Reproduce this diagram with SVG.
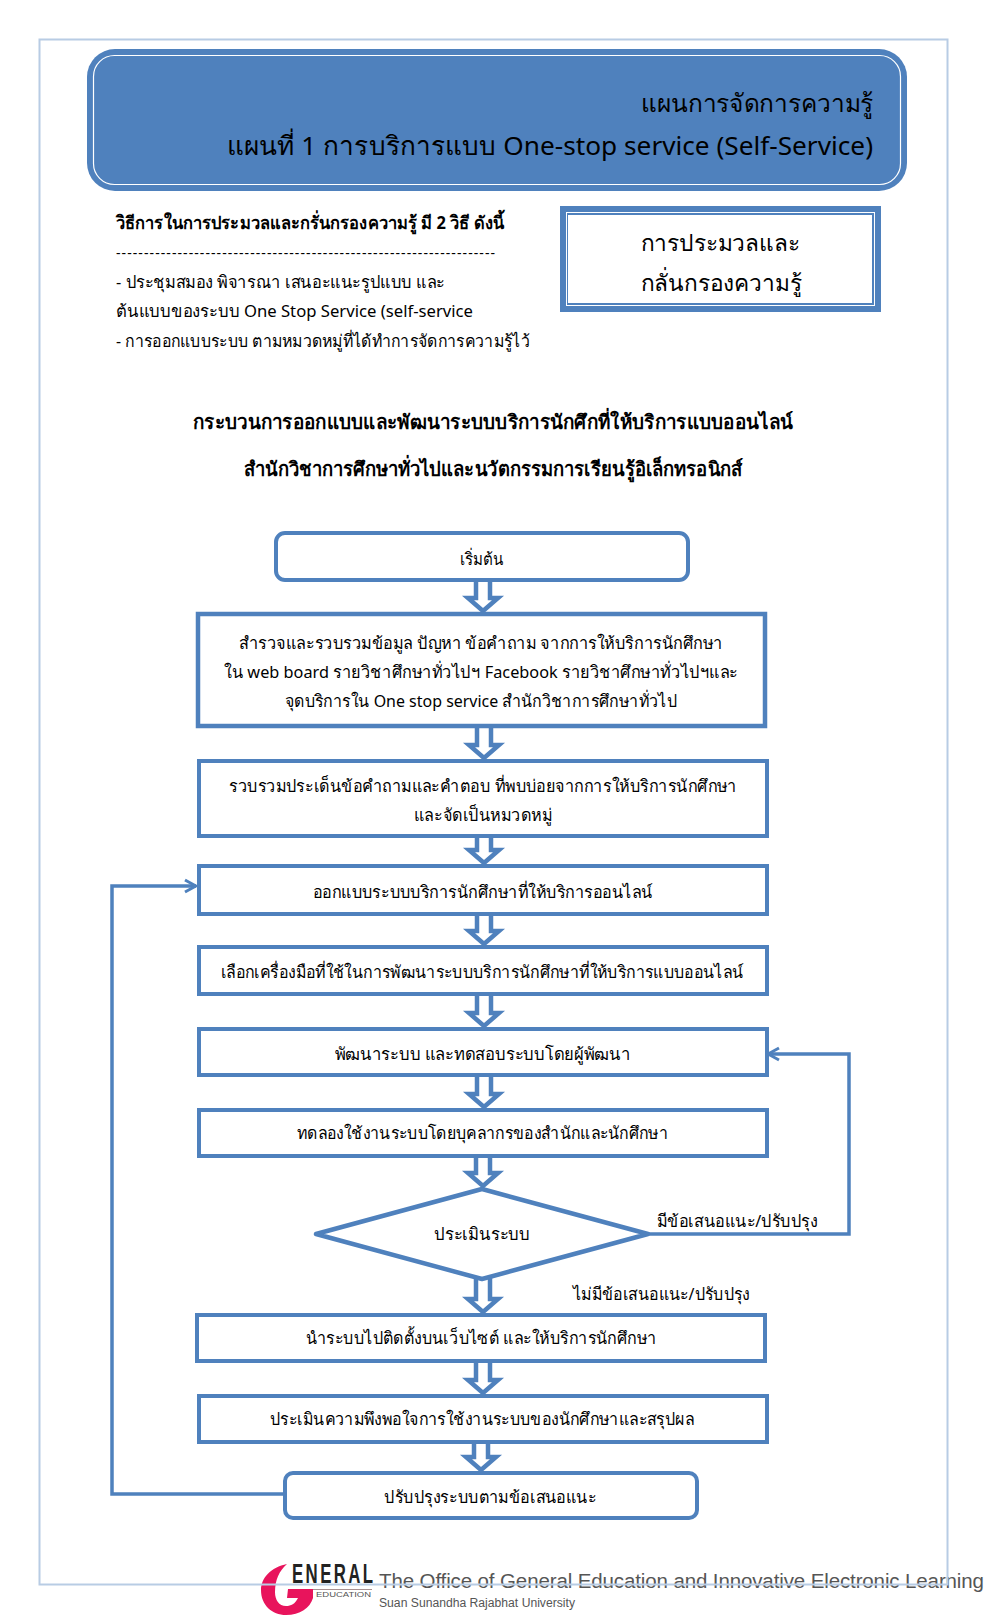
<svg xmlns="http://www.w3.org/2000/svg" width="987" height="1624" viewBox="0 0 987 1624">
<style>
text{font-family:"Noto Sans","Liberation Sans","DejaVu Sans",sans-serif;fill:#000}
.m{text-anchor:middle}
.b{fill:#fff;stroke:#4f81bd;stroke-width:4}
.c{fill:none;stroke:#4f81bd;stroke-width:3.500}
.s{font-size:17px}
.logo{font-family:"Liberation Sans",sans-serif;fill:#555}
</style>
<defs>
<marker id="o" markerWidth="16" markerHeight="16" refX="14" refY="8" orient="auto" markerUnits="userSpaceOnUse"><path d="M3 2L14 8L3 14" fill="none" stroke="#4f81bd" stroke-width="3"/></marker>
<path id="ar" d="M-7 -35V-14H-15L0 -1L15 -14H7V-35" fill="#fff" stroke="#4f81bd" stroke-width="4.500"/>
</defs>
<g id="logo">
<path d="M287 1564C271 1567 261 1578 261 1590C261 1605 272 1615 286 1615C300 1615 310 1608 313 1598V1589H288L287 1598H298C295 1604 291 1606 286 1606C279 1606 275 1600 275 1592C275 1580 279 1571 287 1564Z" fill="#e8145c"/>
<path d="M313 1589.500H372" stroke="#a89090" stroke-width="1"/>
<text class="logo" transform="translate(292 1583) scale(.6 1)" style="font-size:28px;font-weight:bold;letter-spacing:4px;fill:#222">ENERAL</text>
<text class="logo" x="316" y="1597" style="font-size:7.500px" textLength="55" lengthAdjust="spacingAndGlyphs">EDUCATION</text>
<text class="logo" x="379" y="1588" style="font-size:20.500px" textLength="605">The Office of General Education and Innovative Electronic Learning</text>
<text class="logo" x="379" y="1607" style="font-size:12px" textLength="196" lengthAdjust="spacingAndGlyphs">Suan Sunandha Rajabhat University</text>
</g>
<rect id="frame" x="39.500" y="39.500" width="908" height="1545" fill="none" stroke="#b8cce4" stroke-width="2"/>
<g id="header">
<rect x="87" y="49" width="820" height="142" rx="28" fill="#4f81bd"/>
<rect x="93.500" y="55.500" width="807" height="129" rx="21" fill="#4f81bd" stroke="#fff" stroke-width="1.200"/>
<text x="873" y="112" text-anchor="end" style="font-size:25px" textLength="232" lengthAdjust="spacingAndGlyphs">แผนการจัดการความรู้</text>
<text x="873" y="155" text-anchor="end" style="font-size:26px" textLength="646" lengthAdjust="spacingAndGlyphs">แผนที่ 1 การบริการแบบ One-stop service (Self-Service)</text>
</g>
<g id="intro">
<text x="116" y="229" style="font-size:18px;font-weight:bold" textLength="388" lengthAdjust="spacingAndGlyphs">วิธีการในการประมวลและกรั่นกรองความรู้ มี 2 วิธี ดังนี้</text>
<text x="116" y="258" style="font-size:14px" textLength="379">--------------------------------------------------------------------</text>
<text x="116" y="288" class="s" textLength="329" lengthAdjust="spacingAndGlyphs">- ประชุมสมอง พิจารณา เสนอะแนะรูปแบบ และ</text>
<text x="116" y="317" class="s" textLength="357" lengthAdjust="spacingAndGlyphs">ต้นแบบของระบบ One Stop Service (self-service</text>
<text x="116" y="347" class="s" textLength="414" lengthAdjust="spacingAndGlyphs">- การออกแบบระบบ ตามหมวดหมู่ที่ได้ทำการจัดการความรู้ไว้</text>
</g>
<g id="km-box">
<rect x="560" y="206" width="321" height="106" fill="#4f81bd"/>
<rect x="566.500" y="212.500" width="308" height="93" fill="#4f81bd" stroke="#fff"/>
<rect x="568" y="215" width="304" height="88" fill="#fff"/>
<text x="720" y="251" class="m" style="font-size:23px" textLength="159" lengthAdjust="spacingAndGlyphs">การประมวลและ</text>
<text x="721" y="291" class="m" style="font-size:23px" textLength="161" lengthAdjust="spacingAndGlyphs">กลั่นกรองความรู้</text>
</g>
<g id="titles">
<text x="493" y="429" class="m" style="font-size:20px;font-weight:bold" textLength="600" lengthAdjust="spacingAndGlyphs">กระบวนการออกแบบและพัฒนาระบบบริการนักศึกที่ให้บริการแบบออนไลน์</text>
<text x="493" y="476" class="m" style="font-size:20px;font-weight:bold" textLength="499" lengthAdjust="spacingAndGlyphs">สำนักวิชาการศึกษาทั่วไปและนวัตกรรมการเรียนรู้อิเล็กทรอนิกส์</text>
</g>
<g id="connectors">
<use href="#ar" x="483" y="612"/>
<use href="#ar" x="484" y="759"/>
<use href="#ar" x="484" y="864"/>
<use href="#ar" x="484" y="945"/>
<use href="#ar" x="484" y="1027"/>
<use href="#ar" x="484" y="1108"/>
<use href="#ar" x="483" y="1187"/>
<use href="#ar" x="483" y="1313"/>
<use href="#ar" x="483" y="1394"/>
<use href="#ar" x="481" y="1471"/>
<path class="c" d="M284 1494H112V886H196" marker-end="url(#o)"/>
<path class="c" d="M648 1234H849V1054H768" marker-end="url(#o)"/>
</g>
<g id="n1"><rect class="b" x="276" y="533" width="412" height="47" rx="9"/><text x="481.600" y="565" class="m s" textLength="43.500" lengthAdjust="spacingAndGlyphs">เริ่มต้น</text></g>
<g id="n2"><rect class="b" x="198" y="614" width="567" height="112" style="stroke-width:4.500"/>
<text x="481" y="649" class="m s" textLength="484" lengthAdjust="spacingAndGlyphs">สำรวจและรวบรวมข้อมูล  ปัญหา  ข้อคำถาม จากการให้บริการนักศึกษา</text>
<text x="481" y="678" class="m s" textLength="514" lengthAdjust="spacingAndGlyphs">ใน web board รายวิชาศึกษาทั่วไปฯ  Facebook รายวิชาศึกษาทั่วไปฯและ</text>
<text x="481" y="707" class="m s" textLength="392" lengthAdjust="spacingAndGlyphs">จุดบริการใน One stop service สำนักวิชาการศึกษาทั่วไป</text></g>
<g id="n3"><rect class="b" x="199" y="761" width="568" height="75"/>
<text x="483" y="792" class="m s" textLength="508" lengthAdjust="spacingAndGlyphs">รวบรวมประเด็นข้อคำถามและคำตอบ  ที่พบบ่อยจากการให้บริการนักศึกษา</text>
<text x="483" y="821" class="m s" textLength="138" lengthAdjust="spacingAndGlyphs">และจัดเป็นหมวดหมู่</text></g>
<g id="n4"><rect class="b" x="199" y="866" width="568" height="48"/><text x="482.600" y="898" class="m s" textLength="340" lengthAdjust="spacingAndGlyphs">ออกแบบระบบบริการนักศึกษาที่ให้บริการออนไลน์</text></g>
<g id="n5"><rect class="b" x="199" y="947" width="568" height="47"/><text x="482" y="978" class="m s" textLength="523" lengthAdjust="spacingAndGlyphs">เลือกเครื่องมือที่ใช้ในการพัฒนาระบบบริการนักศึกษาที่ให้บริการแบบออนไลน์</text></g>
<g id="n6"><rect class="b" x="199" y="1029" width="568" height="46"/><text x="482.600" y="1060" class="m s" textLength="296" lengthAdjust="spacingAndGlyphs">พัฒนาระบบ  และทดสอบระบบโดยผู้พัฒนา</text></g>
<g id="n7"><rect class="b" x="199" y="1110" width="568" height="46"/><text x="482.600" y="1139" class="m s" textLength="371" lengthAdjust="spacingAndGlyphs">ทดลองใช้งานระบบโดยบุคลากรของสำนักและนักศึกษา</text></g>
<g id="n8"><path class="b" d="M482 1189L648 1234L482 1279L316 1234Z" style="stroke-width:4.500;stroke-linejoin:round"/><text x="482" y="1240" class="m s" textLength="96" lengthAdjust="spacingAndGlyphs">ประเมินระบบ</text></g>
<g id="n9"><rect class="b" x="197" y="1315" width="568" height="46"/><text x="481" y="1344" class="m s" textLength="351" lengthAdjust="spacingAndGlyphs">นำระบบไปติดตั้งบนเว็บไซต์  และให้บริการนักศึกษา</text></g>
<g id="n10"><rect class="b" x="199" y="1396" width="568" height="46"/><text x="482" y="1425" class="m s" textLength="424" lengthAdjust="spacingAndGlyphs">ประเมินความพึงพอใจการใช้งานระบบของนักศึกษาและสรุปผล</text></g>
<g id="n11"><rect class="b" x="285" y="1473" width="412" height="45" rx="8"/><text x="490.400" y="1503" class="m s" textLength="212" lengthAdjust="spacingAndGlyphs">ปรับปรุงระบบตามข้อเสนอแนะ</text></g>
<g id="labels">
<text x="657" y="1227" class="s" textLength="160.500" lengthAdjust="spacingAndGlyphs">มีข้อเสนอแนะ/ปรับปรุง</text>
<text x="573" y="1300" class="s" textLength="177" lengthAdjust="spacingAndGlyphs">ไม่มีข้อเสนอแนะ/ปรับปรุง</text>
</g>
</svg>
